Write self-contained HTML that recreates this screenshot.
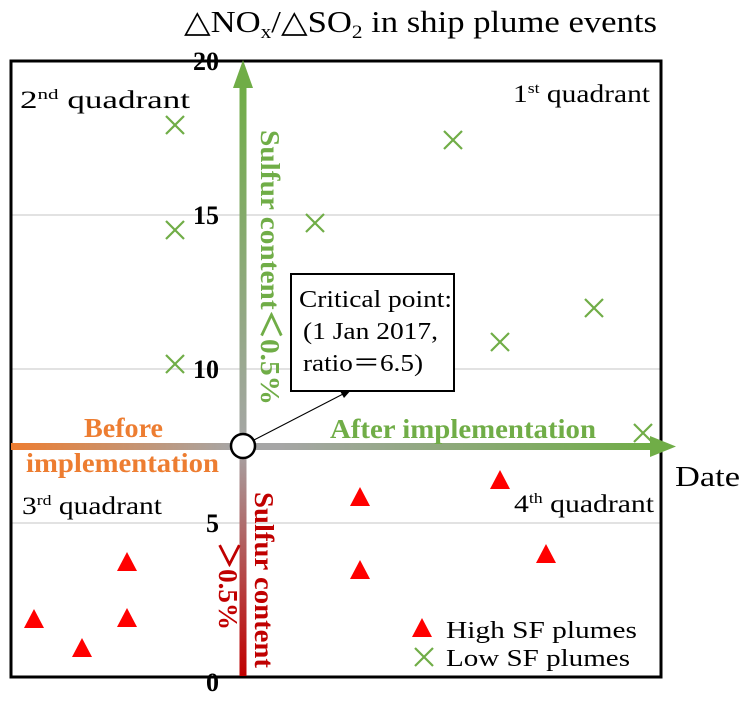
<!DOCTYPE html>
<html><head><style>body{margin:0;background:#fff}</style></head><body>
<svg width="748" height="696" xmlns="http://www.w3.org/2000/svg" font-family="Liberation Serif, serif">
<defs>
<linearGradient id="gh" x1="0" x2="1" y1="0" y2="0"><stop offset="0" stop-color="#ed7d31"/><stop offset="0.35" stop-color="#a6a6a6"/><stop offset="0.42" stop-color="#a6a6a6"/><stop offset="1" stop-color="#70ad47"/></linearGradient>
<linearGradient id="gvu" x1="0" x2="0" y1="1" y2="0"><stop offset="0" stop-color="#a6a6a6"/><stop offset="1" stop-color="#70ad47"/></linearGradient>
<linearGradient id="gvd" x1="0" x2="0" y1="0" y2="1"><stop offset="0" stop-color="#a6a6a6"/><stop offset="1" stop-color="#c00000"/></linearGradient>
<g id="x"><path d="M-9,-9L9,9M-9,9L9,-9" stroke="#70ad47" stroke-width="2.2"/></g>
<g id="t"><path d="M0,-10L10,9L-10,9Z" fill="#ff0000"/></g>
</defs>
<text x="184" y="32" font-size="31" textLength="473" lengthAdjust="spacingAndGlyphs">△NO<tspan font-size="19" dy="6">x</tspan><tspan dy="-6">/△SO</tspan><tspan font-size="19" dy="6">2</tspan><tspan dy="-6"> in ship plume events</tspan></text>
<g stroke="#d9d9d9" stroke-width="1.5"><line x1="11" x2="661" y1="215" y2="215"/><line x1="11" x2="661" y1="369" y2="369"/><line x1="11" x2="661" y1="523" y2="523"/></g>
<rect x="11" y="61" width="650" height="616" fill="none" stroke="#000" stroke-width="3"/>
<g font-size="26" font-weight="bold" text-anchor="end"><text x="219" y="70">20</text><text x="219" y="224">15</text><text x="219" y="378">10</text><text x="219" y="532">5</text><text x="219" y="691">0</text></g>
<rect x="11" y="443" width="640" height="7" fill="url(#gh)"/>
<path d="M650,436L676,446.5L650,457Z" fill="#70ad47"/>
<rect x="239.5" y="85" width="7" height="361" fill="url(#gvu)"/>
<path d="M233,88L243,60L253,88Z" fill="#70ad47"/>
<rect x="239.5" y="446" width="7" height="230" fill="url(#gvd)"/>
<line x1="254" y1="440" x2="345" y2="393" stroke="#000" stroke-width="1"/>
<path d="M352,389L340,391L344,398Z" fill="#000"/>
<circle cx="243" cy="446" r="12" fill="#fff" stroke="#000" stroke-width="2.5"/>
<rect x="291" y="274" width="163" height="117" fill="#fff" stroke="#000" stroke-width="2"/>
<g font-size="24"><text x="299" y="307" textLength="153" lengthAdjust="spacingAndGlyphs">Critical point:</text><text x="303" y="339" textLength="135" lengthAdjust="spacingAndGlyphs">(1 Jan 2017,</text><text x="303" y="371" textLength="120" lengthAdjust="spacingAndGlyphs">ratio＝6.5)</text></g>
<g font-size="25">
<text x="20" y="108" textLength="170" lengthAdjust="spacingAndGlyphs">2<tspan font-size="15" dy="-9">nd</tspan><tspan dy="9"> quadrant</tspan></text>
<text x="513" y="102" textLength="137" lengthAdjust="spacingAndGlyphs">1<tspan font-size="15" dy="-9">st</tspan><tspan dy="9"> quadrant</tspan></text>
<text x="22" y="514" textLength="140" lengthAdjust="spacingAndGlyphs">3<tspan font-size="15" dy="-9">rd</tspan><tspan dy="9"> quadrant</tspan></text>
<text x="514" y="512" textLength="140" lengthAdjust="spacingAndGlyphs">4<tspan font-size="15" dy="-9">th</tspan><tspan dy="9"> quadrant</tspan></text></g>
<text x="675" y="486" font-size="28" textLength="65" lengthAdjust="spacingAndGlyphs">Date</text>
<g font-weight="bold" font-size="27"><text x="84" y="437" fill="#ed7d31" textLength="79" lengthAdjust="spacingAndGlyphs">Before</text><text x="26" y="472" fill="#ed7d31" textLength="193" lengthAdjust="spacingAndGlyphs">implementation</text>
<text x="330" y="438" fill="#70ad47" textLength="266" lengthAdjust="spacingAndGlyphs">After implementation</text>
<text transform="translate(261,130) rotate(90)" fill="#70ad47" textLength="275" lengthAdjust="spacingAndGlyphs">Sulfur content＜0.5%</text>
<text transform="translate(255,492) rotate(90)" fill="#c00000" textLength="176" lengthAdjust="spacingAndGlyphs">Sulfur content</text>
<text transform="translate(219,542) rotate(90)" fill="#c00000" textLength="88" lengthAdjust="spacingAndGlyphs">＞0.5%</text></g>
<use href="#x" x="175" y="125"/><use href="#x" x="175" y="230"/><use href="#x" x="175" y="364"/><use href="#x" x="315" y="223"/><use href="#x" x="453" y="140"/><use href="#x" x="500" y="342"/><use href="#x" x="594" y="308"/><use href="#x" x="643" y="433"/>
<use href="#t" x="34" y="619"/><use href="#t" x="127" y="562"/><use href="#t" x="127" y="618"/><use href="#t" x="82" y="648"/><use href="#t" x="360" y="497"/><use href="#t" x="360" y="570"/><use href="#t" x="500" y="480"/><use href="#t" x="546" y="554"/>
<use href="#t" x="422" y="628"/><use href="#x" x="424" y="657"/>
<g font-size="24"><text x="446" y="638" textLength="191" lengthAdjust="spacingAndGlyphs">High SF plumes</text><text x="446" y="666" textLength="184" lengthAdjust="spacingAndGlyphs">Low SF plumes</text></g>
</svg>
</body></html>
